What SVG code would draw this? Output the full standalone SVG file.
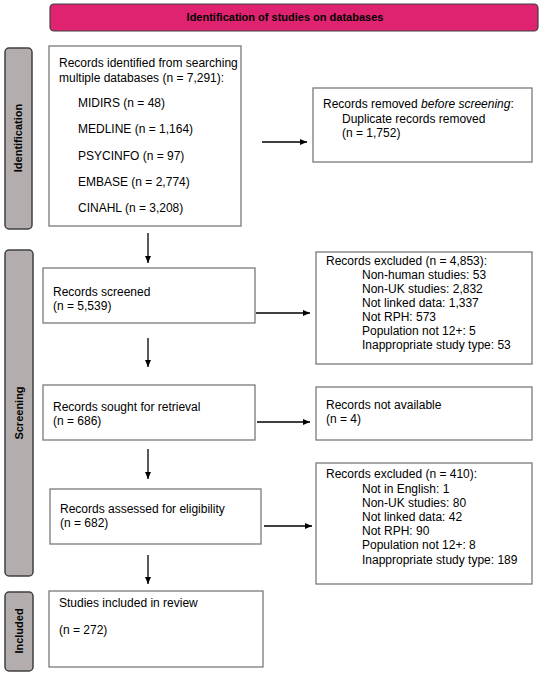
<svg xmlns="http://www.w3.org/2000/svg" width="549" height="676" viewBox="0 0 549 676">
<style>
.bx{fill:#fff;stroke:#7a7a7a;stroke-width:1.3}
.side{fill:#b3aead;stroke:#404040;stroke-width:1.5}
.t{font-family:"Liberation Sans",Arial,sans-serif;font-size:12px;fill:#000}
.tb{font-family:"Liberation Sans",Arial,sans-serif;font-size:11px;font-weight:bold;fill:#000}
.c{stroke:#000;stroke-width:1.3;fill:none;marker-end:url(#ah)}
</style>
<defs>
<marker id="ah" markerWidth="8" markerHeight="8" refX="7" refY="4" orient="auto" markerUnits="userSpaceOnUse">
<path d="M0,1 L7,4 L0,7 Z" fill="#000"/>
</marker>
</defs>
<rect width="549" height="676" fill="#fff"/>
<g id="header">
<rect x="50" y="4" width="488" height="27" rx="4" fill="#df2370" stroke="#404040" stroke-width="1.2"/>
<text class="tb" x="285" y="21" text-anchor="middle">Identification  of studies on databases</text>
</g>
<g id="side-identification">
<rect class="side" x="5" y="48" width="27" height="181" rx="4"/>
<text class="tb" transform="translate(22,138) rotate(-90)" text-anchor="middle">Identification</text>
</g>
<g id="side-screening">
<rect class="side" x="5" y="250" width="28" height="326" rx="4"/>
<text class="tb" transform="translate(23,413) rotate(-90)" text-anchor="middle">Screening</text>
</g>
<g id="side-included">
<rect class="side" x="5" y="592" width="28" height="79" rx="4"/>
<text class="tb" transform="translate(23,631) rotate(-90)" text-anchor="middle">Included</text>
</g>
<g id="identified">
<rect class="bx" x="49" y="46" width="192" height="180"/>
<text class="t" x="59" y="67">Records identified from searching</text>
<text class="t" x="59" y="82">multiple databases (n = 7,291):</text>
<text class="t" x="78" y="107">MIDIRS  (n = 48)</text>
<text class="t" x="78" y="133">MEDLINE  (n = 1,164)</text>
<text class="t" x="78" y="160">PSYCINFO  (n = 97)</text>
<text class="t" x="78" y="186">EMBASE (n = 2,774)</text>
<text class="t" x="78" y="212">CINAHL  (n = 3,208)</text>
</g>
<g id="removed">
<rect class="bx" x="313" y="88" width="219" height="74"/>
<text class="t" x="323" y="108">Records removed <tspan font-style="italic">before screening</tspan>:</text>
<text class="t" x="342" y="123">Duplicate records removed</text>
<text class="t" x="342" y="137">(n = 1,752)</text>
</g>
<g id="screened">
<rect class="bx" x="43" y="268" width="212" height="55"/>
<text class="t" x="53" y="296">Records screened</text>
<text class="t" x="53" y="310">(n = 5,539)</text>
</g>
<g id="excluded1">
<rect class="bx" x="316" y="252" width="216" height="112"/>
<text class="t" x="326" y="265">Records excluded (n = 4,853):</text>
<text class="t" x="362" y="279">Non-human studies: 53</text>
<text class="t" x="362" y="293">Non-UK studies: 2,832</text>
<text class="t" x="362" y="307">Not linked data: 1,337</text>
<text class="t" x="362" y="321">Not RPH: 573</text>
<text class="t" x="362" y="335">Population not 12+: 5</text>
<text class="t" x="362" y="349">Inappropriate study type: 53</text>
</g>
<g id="sought">
<rect class="bx" x="43" y="385" width="212" height="55"/>
<text class="t" x="53" y="411">Records sought for retrieval</text>
<text class="t" x="53" y="425">(n = 686)</text>
</g>
<g id="notavailable">
<rect class="bx" x="316" y="387" width="216" height="53"/>
<text class="t" x="326" y="409">Records not available</text>
<text class="t" x="326" y="423">(n = 4)</text>
</g>
<g id="assessed">
<rect class="bx" x="50" y="489" width="211" height="55"/>
<text class="t" x="60" y="513">Records assessed for eligibility</text>
<text class="t" x="60" y="527">(n = 682)</text>
</g>
<g id="excluded2">
<rect class="bx" x="316" y="463" width="216" height="121"/>
<text class="t" x="326" y="478">Records excluded (n = 410):</text>
<text class="t" x="362" y="493">Not in English: 1</text>
<text class="t" x="362" y="507">Non-UK studies: 80</text>
<text class="t" x="362" y="521">Not linked data: 42</text>
<text class="t" x="362" y="535">Not RPH: 90</text>
<text class="t" x="362" y="549">Population not 12+: 8</text>
<text class="t" x="362" y="564">Inappropriate study type: 189</text>
</g>
<g id="included">
<rect class="bx" x="49" y="591" width="214" height="76"/>
<text class="t" x="59" y="607">Studies included in review</text>
<text class="t" x="59" y="634">(n = 272)</text>
</g>
<g id="connectors">
<line class="c" x1="262" y1="142" x2="307" y2="142"/>
<line class="c" x1="148" y1="233" x2="148" y2="263"/>
<line class="c" x1="256" y1="313" x2="310" y2="313"/>
<line class="c" x1="148" y1="338" x2="148" y2="367"/>
<line class="c" x1="257" y1="422" x2="310" y2="422"/>
<line class="c" x1="148" y1="449" x2="148" y2="479"/>
<line class="c" x1="264" y1="526" x2="312" y2="526"/>
<line class="c" x1="148" y1="555" x2="148" y2="584"/>
</g>
</svg>
